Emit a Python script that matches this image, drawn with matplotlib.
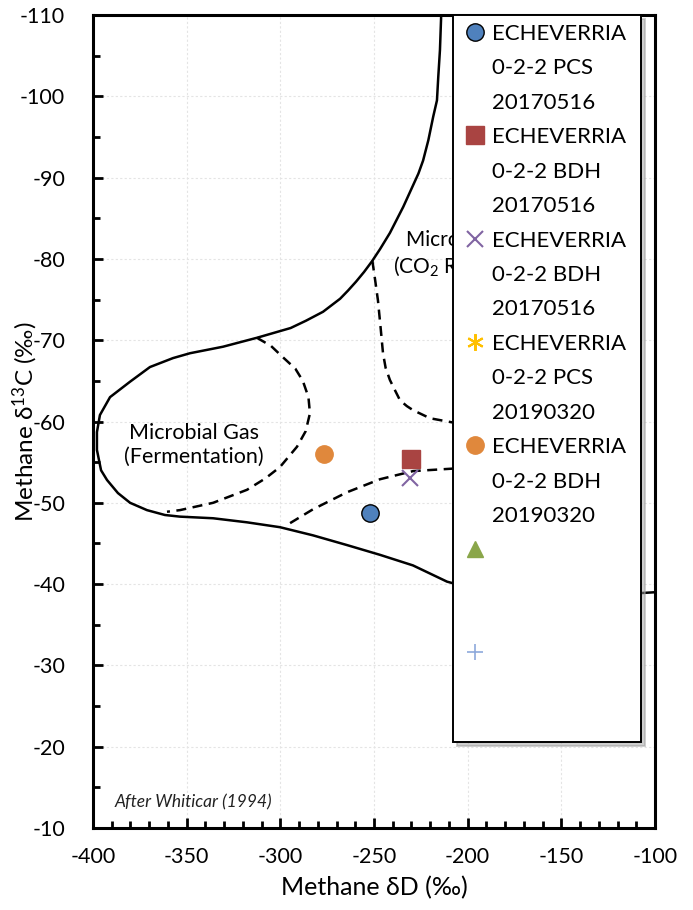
import matplotlib.pyplot as plt
from matplotlib.lines import Line2D
from matplotlib.ticker import MultipleLocator

plt.rcParams['font.family'] = ['Lato', 'DejaVu Sans']
plt.rcParams['axes.unicode_minus'] = False
plt.rcParams['mathtext.default'] = 'regular'

# Field boundaries (after Whiticar 1994)
outer_dD = [-214.2, -214.8, -215.7, -216.4, -218.4, -221.0, -223.8, -226.3,
            -234.4, -241.5, -246.8, -251.1, -255.3, -259.6, -263.9, -268.1,
            -277.2, -286.3, -294.5, -312.5, -330.6, -348.2, -357.3,
            -369.6, -380.2, -390.9, -396.3, -397.9, -397.9, -395.7, -392.5,
            -386.7, -380.2, -371.2, -361.6, -353.6, -335.9, -317.8, -300.2,
            -282.6, -264.4, -246.8, -229.2, -211.0, -190.0, -160.0, -130.0,
            -100.0]
outer_d13C = [-109.6, -105.7, -102.4, -99.5, -97.5, -94.6, -92.1, -90.5,
              -86.4, -83.2, -81.2, -79.7, -78.4, -77.2, -76.1, -75.1,
              -73.5, -72.4, -71.5, -70.3, -69.2, -68.4, -67.8,
              -66.7, -64.9, -63.0, -60.8, -58.7, -56.5, -54.0, -52.8,
              -51.2, -50.0, -49.1, -48.5, -48.3, -48.1, -47.6, -47.0,
              -46.0, -44.8, -43.6, -42.3, -40.3, -39.0, -38.5, -38.6,
              -39.0]

ferm_dD = [-312.5, -305.0, -298.6, -292.0, -288.0, -285.0, -284.2, -286.5,
           -291.1, -300.2, -308.0, -317.8, -335.9, -353.6, -360.5]
ferm_d13C = [-70.3, -69.3, -67.9, -66.5, -65.0, -63.0, -61.0, -58.8,
             -56.9, -54.4, -53.0, -51.6, -50.0, -49.1, -48.9]

co2_dD = [-250.9, -249.4, -247.9, -246.5, -245.2, -243.8, -241.5, -238.5,
          -236.1, -232.5, -229.2, -220.1, -208.4, -190.0, -170.0]
co2_d13C = [-79.8, -77.4, -74.9, -71.6, -68.4, -66.6, -65.1, -63.7,
            -62.6, -61.9, -61.4, -60.4, -59.9, -59.6, -59.5]

thermo_dD = [-294.8, -282.6, -264.4, -246.8, -229.2, -208.4, -190.0, -170.0]
thermo_d13C = [-47.5, -49.2, -51.3, -52.9, -53.9, -54.2, -54.3, -54.3]

# Samples
pcs17_dD, pcs17_d13C = [-252.1], [-48.8]
bdh17_dD, bdh17_d13C = [-230.2], [-55.4]
bdh17b_dD, bdh17b_d13C = [-230.8], [-53.0]
pcs19_dD, pcs19_d13C = [], []
bdh19_dD, bdh19_d13C = [-276.5], [-56.0]
s6_dD, s6_d13C = [], []
s7_dD, s7_d13C = [], []

labels = ['ECHEVERRIA\n0-2-2 PCS\n20170516',
          'ECHEVERRIA\n0-2-2 BDH\n20170516',
          'ECHEVERRIA\n0-2-2 BDH\n20170516',
          'ECHEVERRIA\n0-2-2 PCS\n20190320',
          'ECHEVERRIA\n0-2-2 BDH\n20190320',
          '0\n0\n0',
          '0\n0\n0']

fig = plt.figure(figsize=(6.93, 9.10), dpi=100)
ax = fig.add_axes([0.1342, 0.0901, 0.8110, 0.8934])

ax.plot(outer_dD, outer_d13C, color='black', lw=1.8, solid_joinstyle='round', zorder=2)
for xs, ys in [(ferm_dD, ferm_d13C), (co2_dD, co2_d13C), (thermo_dD, thermo_d13C)]:
    ax.plot(xs, ys, color='black', lw=1.8, ls=(0, (4, 2.6)), zorder=2)

h1, = ax.plot(pcs17_dD, pcs17_d13C, 'o', ms=12.5, mfc='#4F81BD', mec='black', mew=1.0, ls='none', zorder=4)
h2, = ax.plot(bdh17_dD, bdh17_d13C, 's', ms=13, mfc='#A94442', mec='#A94442', ls='none', zorder=4)
h3, = ax.plot(bdh17b_dD, bdh17b_d13C, 'x', ms=12, mec='#8064A2', mew=1.5, ls='none', zorder=4)
h4, = ax.plot(pcs19_dD, pcs19_d13C, marker=(6, 2, 0), ms=12, mec='#FFC000', mew=1.5, ls='none', zorder=4)
h5, = ax.plot(bdh19_dD, bdh19_d13C, 'o', ms=12.5, mfc='#E0883C', mec='#E0883C', ls='none', zorder=4)
h6, = ax.plot(s6_dD, s6_d13C, '^', ms=12, mfc='#8AA64A', mec='#8AA64A', ls='none', zorder=4)
h7, = ax.plot(s7_dD, s7_d13C, '+', ms=12, mec='#8EA9DB', mew=1.2, ls='none', zorder=4)

ax.text(-346, -57.1, 'Microbial Gas\n(Fermentation)', ha='center', va='center',
        fontsize=15.5, linespacing=1.2, zorder=3)
ax.text(-199.5, -80.6, 'Microbial Gas\n(CO$_2$ Reduction)', ha='center', va='center',
        fontsize=15, linespacing=1.2, zorder=3)
ax.text(-388.3, -13.1, 'After Whiticar (1994)', ha='left', va='center',
        fontsize=12.5, style='italic', color='#222222', zorder=3)

ax.set_xlim(-400, -100)
ax.set_ylim(-10, -110)
ax.xaxis.set_major_locator(MultipleLocator(50))
ax.xaxis.set_minor_locator(MultipleLocator(10))
ax.yaxis.set_major_locator(MultipleLocator(10))
ax.yaxis.set_minor_locator(MultipleLocator(5))
ax.tick_params(which='both', direction='in', width=2, labelsize=15.5)
ax.tick_params(which='major', length=7)
ax.tick_params(which='minor', length=5)
ax.tick_params(axis='x', pad=14)
ax.tick_params(axis='y', pad=20)
for sp in ax.spines.values():
    sp.set_linewidth(2.2)
ax.grid(True, which='major', color='#e4e4e4', lw=0.8, ls=(0, (2, 2)))
ax.set_axisbelow(True)

ax.set_xlabel('Methane δD (‰)', fontsize=18, labelpad=6)
ax.set_ylabel('Methane δ$^{13}$C (‰)', fontsize=17.5, labelpad=0)
ax.yaxis.set_label_coords(-0.094, 0.5)

# one legend row per text line, marker on the first line
blank = Line2D([], [], ls='none', marker='')
handles, texts = [], []
for h, lab in zip([h1, h2, h3, h4, h5, h6, h7], labels):
    rows = lab.split('\n')
    handles.append(h)
    texts.append(rows[0] + ' ')
    for r in rows[1:]:
        handles.append(blank)
        texts.append(r)

leg = ax.legend(handles, texts, loc='upper left', bbox_to_anchor=(0.6406, 1.0),
                borderaxespad=0, fontsize=16, frameon=True, fancybox=False,
                framealpha=1, edgecolor='black', handlelength=1.2,
                handletextpad=0.15, labelspacing=0.65, borderpad=0.4,
                shadow={'ox': 3, 'oy': -3, 'color': '0.62'})
leg.get_frame().set_linewidth(1.4)
leg.set_zorder(5)
# the two unlabelled entries keep their rows but show no text
for t in leg.get_texts()[15:]:
    t.set_alpha(0)

fig.savefig('out.png', dpi=100)
